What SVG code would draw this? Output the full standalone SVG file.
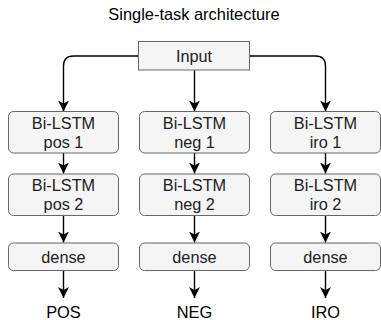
<svg xmlns="http://www.w3.org/2000/svg" width="381" height="320" viewBox="0 0 381 320">
  <style>
    .box { fill: #f5f5f5; stroke: #666666; stroke-width: 1; }
    .lbl { font-family: "Liberation Sans", Arial, sans-serif; font-size: 16.3px; fill: #222222; text-anchor: middle; }
    .out { font-family: "Liberation Sans", Arial, sans-serif; font-size: 16.4px; fill: #000000; text-anchor: middle; }
    .edge { fill: none; stroke: #000000; stroke-width: 1.4; marker-end: url(#arrow); }
  </style>
  <defs>
    <marker id="arrow" viewBox="0 0 12 12" refX="11" refY="6" markerWidth="12" markerHeight="12" markerUnits="userSpaceOnUse" orient="auto">
      <path d="M0,0.5 L11,6 L0,11.5 L3,6 Z" fill="#000000"/>
    </marker>
  </defs>

  <text x="194" y="20" class="out">Single-task architecture</text>

  <g id="connectors">
    <path class="edge" d="M138.5,56 L73.5,56 Q63.5,56 63.5,66 L63.5,111.5"/>
    <path class="edge" d="M194.5,70 L194.5,111.5"/>
    <path class="edge" d="M249.5,56 L315.5,56 Q325.5,56 325.5,66 L325.5,111.5"/>
    <path class="edge" d="M63.5,153 L63.5,173.5"/>
    <path class="edge" d="M194.5,153 L194.5,173.5"/>
    <path class="edge" d="M325.5,153 L325.5,173.5"/>
    <path class="edge" d="M63.5,215.5 L63.5,242.5"/>
    <path class="edge" d="M194.5,215.5 L194.5,242.5"/>
    <path class="edge" d="M325.5,215.5 L325.5,242.5"/>
    <path class="edge" d="M63.5,270.5 L63.5,298"/>
    <path class="edge" d="M194.5,270.5 L194.5,298"/>
    <path class="edge" d="M325.5,270.5 L325.5,298"/>
  </g>

  <g id="input">
    <rect class="box" x="138.5" y="41.5" width="111" height="28.5"/>
    <text class="lbl" x="194" y="62">Input</text>
  </g>

  <g id="pos1">
    <rect class="box" x="8.5" y="111.5" width="110" height="41.5" rx="5"/>
    <text class="lbl" x="63.5" y="128.5">Bi-LSTM</text>
    <text class="lbl" x="63.5" y="147.5">pos 1</text>
  </g>
  <g id="neg1">
    <rect class="box" x="139.5" y="111.5" width="110" height="41.5" rx="5"/>
    <text class="lbl" x="194.5" y="128.5">Bi-LSTM</text>
    <text class="lbl" x="194.5" y="147.5">neg 1</text>
  </g>
  <g id="iro1">
    <rect class="box" x="270.5" y="111.5" width="110" height="41.5" rx="5"/>
    <text class="lbl" x="325.5" y="128.5">Bi-LSTM</text>
    <text class="lbl" x="325.5" y="147.5">iro 1</text>
  </g>

  <g id="pos2">
    <rect class="box" x="8.5" y="174" width="110" height="41.5" rx="5"/>
    <text class="lbl" x="63.5" y="191">Bi-LSTM</text>
    <text class="lbl" x="63.5" y="210">pos 2</text>
  </g>
  <g id="neg2">
    <rect class="box" x="139.5" y="174" width="110" height="41.5" rx="5"/>
    <text class="lbl" x="194.5" y="191">Bi-LSTM</text>
    <text class="lbl" x="194.5" y="210">neg 2</text>
  </g>
  <g id="iro2">
    <rect class="box" x="270.5" y="174" width="110" height="41.5" rx="5"/>
    <text class="lbl" x="325.5" y="191">Bi-LSTM</text>
    <text class="lbl" x="325.5" y="210">iro 2</text>
  </g>

  <g id="dense-pos">
    <rect class="box" x="8.5" y="243" width="110" height="27.5" rx="5"/>
    <text class="lbl" x="63.5" y="262.5">dense</text>
  </g>
  <g id="dense-neg">
    <rect class="box" x="139.5" y="243" width="110" height="27.5" rx="5"/>
    <text class="lbl" x="194.5" y="262.5">dense</text>
  </g>
  <g id="dense-iro">
    <rect class="box" x="270.5" y="243" width="110" height="27.5" rx="5"/>
    <text class="lbl" x="325.5" y="262.5">dense</text>
  </g>

  <g id="out-pos"><text class="out" x="63.5" y="317.5">POS</text></g>
  <g id="out-neg"><text class="out" x="194.5" y="317.5">NEG</text></g>
  <g id="out-iro"><text class="out" x="325.5" y="317.5">IRO</text></g>
</svg>
